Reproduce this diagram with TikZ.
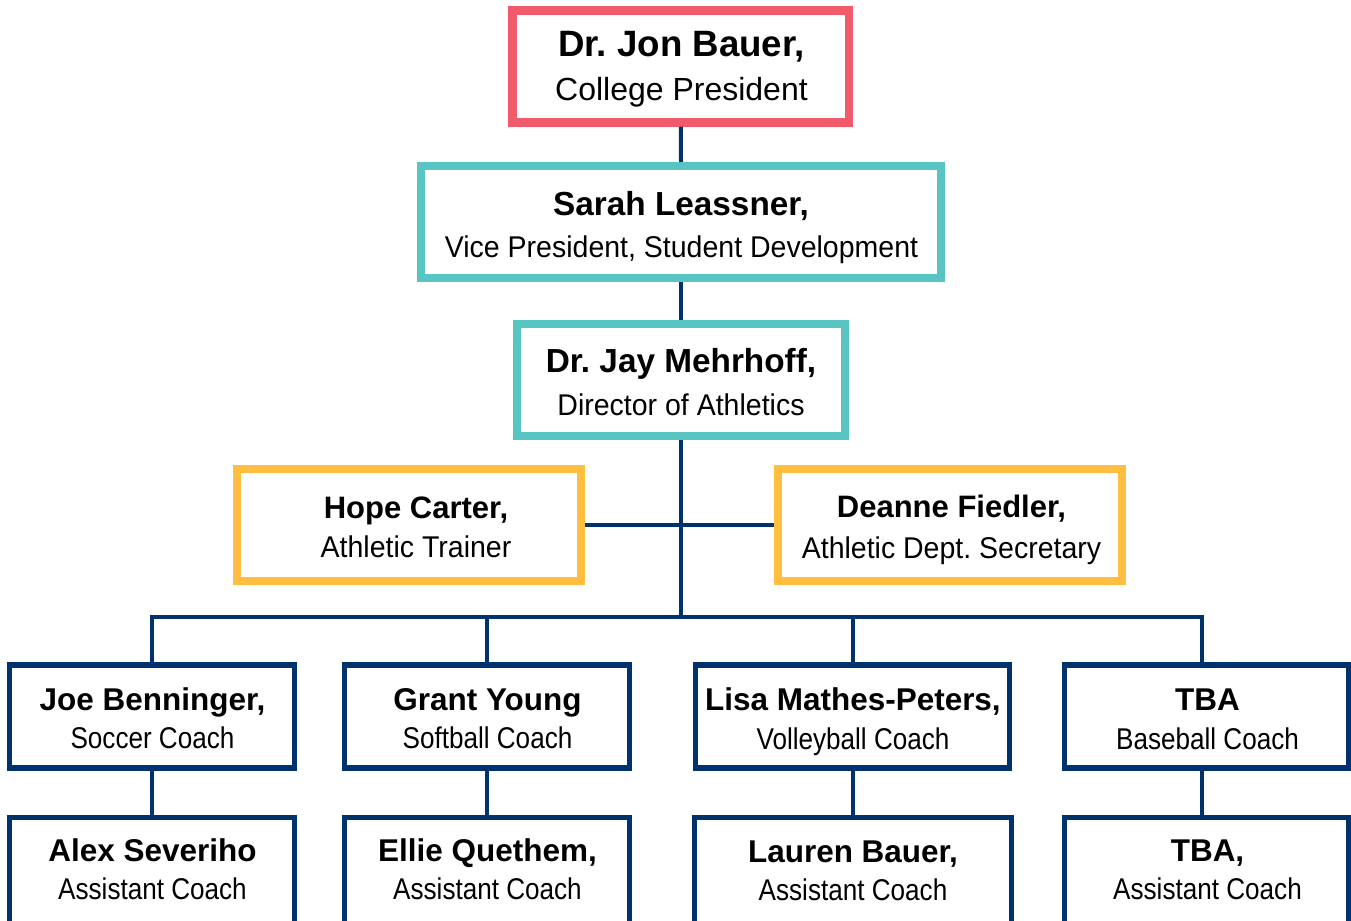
\documentclass[tikz,border=0pt]{standalone}
\usepackage{fontspec}
\setmainfont{Liberation Sans}
\newfontfamily\subMid[FakeStretch=0.95]{Liberation Sans}
\newfontfamily\subLow[FakeStretch=0.87]{Liberation Sans}
\newlength\px
\setlength\px{0.75pt}
\definecolor{cred}{RGB}{240,90,106}
\definecolor{cteal}{RGB}{88,197,195}
\definecolor{cyellow}{RGB}{255,190,63}
\definecolor{cnavy}{RGB}{0,50,110}
\tikzset{
  box/.style={draw, rectangle, fill=white, inner sep=0pt, line join=miter},
  redbox/.style={box, draw=cred, line width=8.5\px},
  tealbox/.style={box, draw=cteal, line width=8\px},
  yelbox/.style={box, draw=cyellow, line width=8\px},
  navybox/.style={box, draw=cnavy, line width=5.5\px, minimum width=285\px, minimum height=103\px},
  conn/.style={draw=cnavy, line width=4\px, line join=miter},
  txt/.style={inner sep=0pt, anchor=base, text=black},
  nameTop/.style={txt, font=\fontsize{27.5pt}{31pt}\selectfont\bfseries},
  subTop/.style={txt, font=\fontsize{24pt}{28pt}\selectfont},
  nameMid/.style={txt, font=\fontsize{25pt}{30pt}\selectfont\bfseries},
  nameSide/.style={txt, font=\fontsize{23.25pt}{28pt}\selectfont\bfseries},
  subMidS/.style={txt, font=\fontsize{22.5pt}{27pt}\subMid},
  nameLow/.style={txt, font=\fontsize{23.6pt}{28pt}\selectfont\bfseries},
  subLowS/.style={txt, font=\fontsize{22.5pt}{27pt}\subLow},
}
\begin{document}
\frenchspacing
\begin{tikzpicture}[x=0.75pt, y=-0.75pt]
\useasboundingbox (0,0) rectangle (1351,920);
\coordinate (bus) at (681,617);
\coordinate (br) at (1202,617);
% boxes
\node[redbox, minimum width=336.5\px, minimum height=112\px] (pres) at (680.75,66.5) {};
\node[tealbox, minimum width=520\px, minimum height=112\px] (vp) at (681,222) {};
\node[tealbox, minimum width=328\px, minimum height=112\px] (dir) at (681,380) {};
\node[yelbox, minimum width=344\px, minimum height=112\px] (hope) at (409,525) {};
\node[yelbox, minimum width=344\px, minimum height=112\px] (dean) at (950,525) {};
\node[navybox] (joe) at (152,716.5) {};
\node[navybox] (grant) at (487,716.5) {};
\node[navybox, minimum width=314\px] (lisa) at (852.5,716.5) {};
\node[navybox, minimum width=284\px] (tba) at (1206.5,716.5) {};
\node[navybox, minimum height=107\px] (alex) at (152,871) {};
\node[navybox, minimum height=107\px] (ellie) at (487,871) {};
\node[navybox, minimum width=317\px, minimum height=107\px] (lauren) at (853,871) {};
\node[navybox, minimum width=284\px, minimum height=107\px] (tbaa) at (1206.5,871) {};
% connectors
\draw[conn] (pres.south) -- (vp.north);
\draw[conn] (vp.south) -- (dir.north);
\draw[conn] (dir.south) -- (bus);
\draw[conn] (hope.east) -- (dean.west);
\draw[conn] (joe.north) |- (bus) -- (br) -- (br |- tba.north);
\draw[conn] (grant.north |- bus) -- (grant.north);
\draw[conn] (lisa.north |- bus) -- (lisa.north);
\draw[conn] (joe.south) -- (alex.north);
\draw[conn] (grant.south) -- (ellie.north);
\draw[conn] (lisa.south) -- (lisa.south |- lauren.north);
\draw[conn] (br |- tba.south) -- (br |- tbaa.north);
% texts
\node[nameTop] (presN) at (681.5,57) {Dr. Jon Bauer,};
\node[subTop] (presS) at (681.5,101) {College President};
\node[nameMid] (vpN) at (681,215) {Sarah Leassner,};
\node[subMidS] (vpS) at (681.5,257) {Vice President, Student Development};
\node[nameMid] (dirN) at (681,372) {Dr. Jay Mehrhoff,};
\node[subMidS] (dirS) at (681,415) {Director of Athletics};
\node[nameSide] (hopeN) at (416,518) {Hope Carter,};
\node[subMidS] (hopeS) at (416,557) {Athletic Trainer};
\node[nameSide] (deanN) at (951.5,517) {Deanne Fiedler,};
\node[subMidS] (deanS) at (951.5,558) {Athletic Dept. Secretary};
\node[nameLow] (joeN) at (152.5,710) {Joe Benninger,};
\node[subLowS] (joeS) at (152.5,748) {Soccer Coach};
\node[nameLow] (grantN) at (487.5,710) {Grant Young};
\node[subLowS] (grantS) at (487.5,748) {Softball Coach};
\node[nameLow] (lisaN) at (853,710) {Lisa Mathes-Peters,};
\node[subLowS] (lisaS) at (853,749) {Volleyball Coach};
\node[nameLow] (tbaN) at (1207.5,710) {TBA};
\node[subLowS] (tbaS) at (1207.5,749) {Baseball Coach};
\node[nameLow] (alexN) at (152.5,861) {Alex Severiho};
\node[subLowS] (alexS) at (152.5,899) {Assistant Coach};
\node[nameLow] (ellieN) at (487.5,861) {Ellie Quethem,};
\node[subLowS] (ellieS) at (487.5,899) {Assistant Coach};
\node[nameLow] (laurenN) at (853,862) {Lauren Bauer,};
\node[subLowS] (laurenS) at (853,900) {Assistant Coach};
\node[nameLow] (tbaaN) at (1207.5,861) {TBA,};
\node[subLowS] (tbaaS) at (1207.5,899) {Assistant Coach};
\end{tikzpicture}
\end{document}
